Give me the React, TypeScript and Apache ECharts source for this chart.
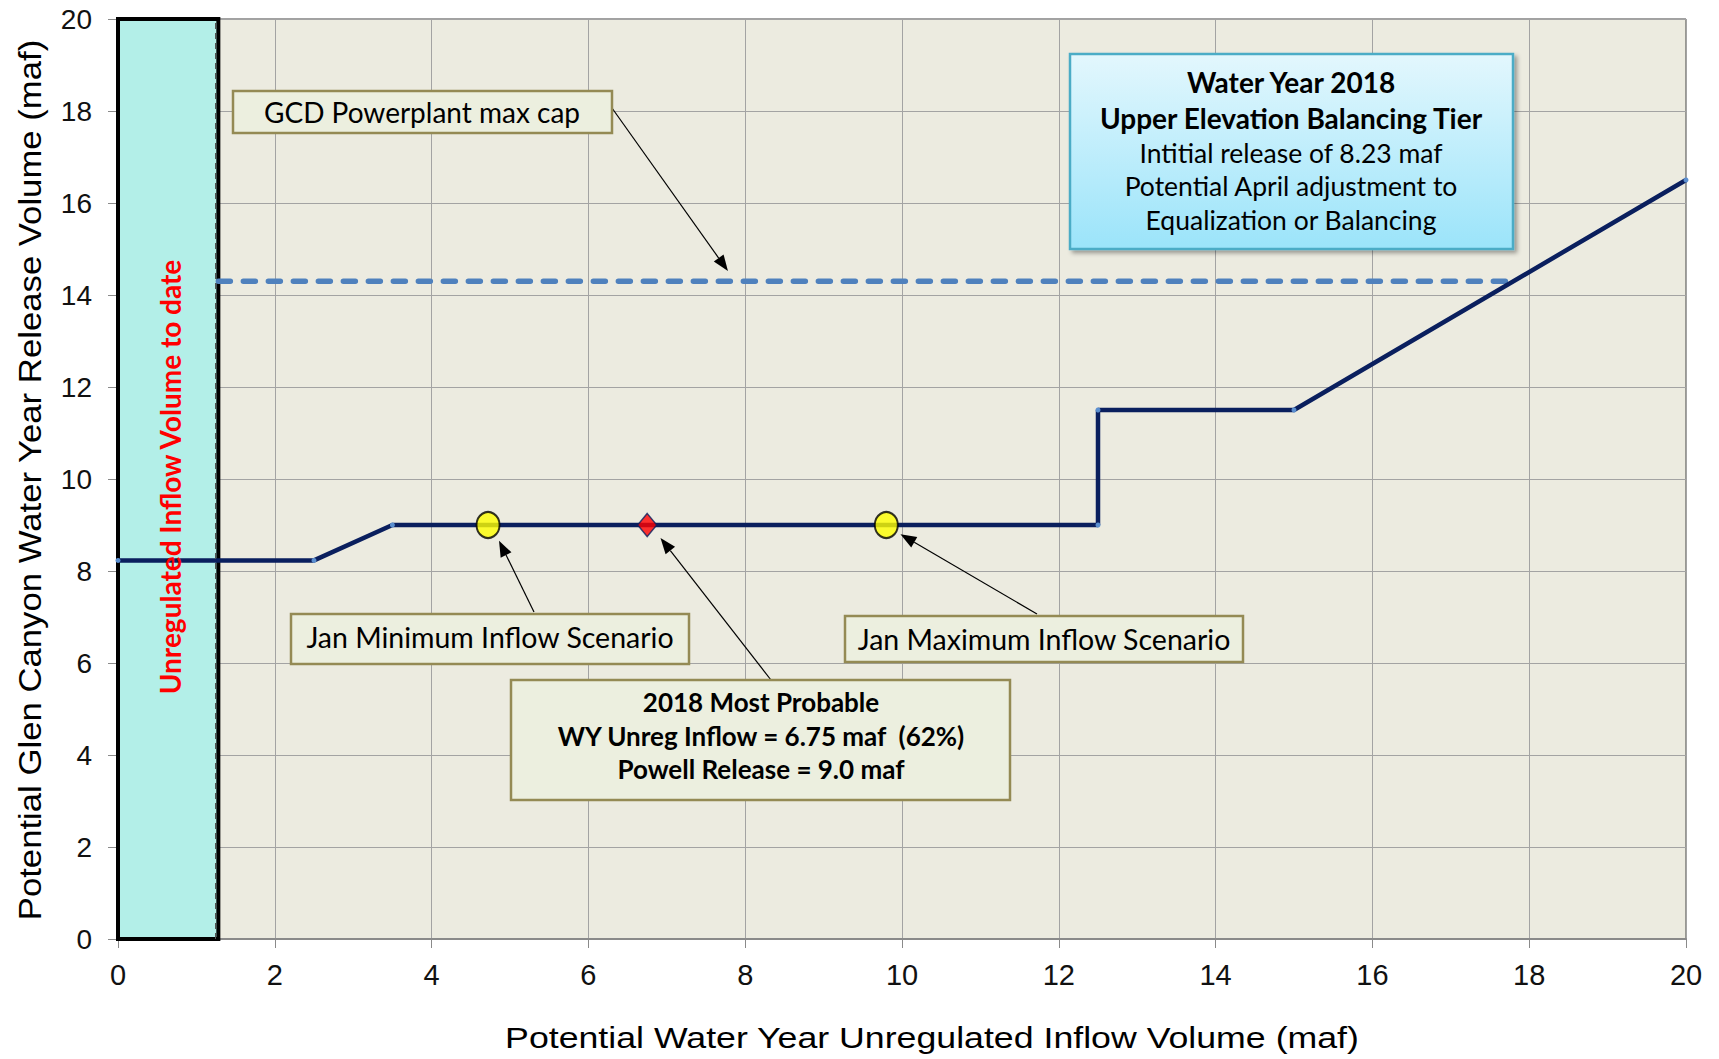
import React, { useEffect, useRef } from "react";
import * as echarts from "echarts";

// ---- data ----
const releaseX = [0, 2.5, 3.5, 12.5, 12.5, 15, 20];
const releaseY = [8.23, 8.23, 9.0, 9.0, 11.5, 11.5, 16.5];
const maxCapX = [1.28, 17.8];
const maxCapY = 14.3;
const inflowToDate = 1.28;
const scenarioX = [4.72, 9.8];
const scenarioY = [9.0, 9.0];
const mostProbableX = [6.75];
const mostProbableY = [9.0];
const axisMin = 0;
const axisMax = 20;
const axisStep = 2;

const blueBoxLines = [
  "Water Year 2018",
  "Upper Elevation Balancing Tier",
  "Intitial release of 8.23 maf",
  "Potential April adjustment to",
  "Equalization or Balancing",
];
const mostProbableLines = [
  "2018 Most Probable",
  "WY Unreg Inflow = 6.75 maf  (62%)",
  "Powell Release = 9.0 maf",
];

// ---- layout ----
const GRID = { left: 118, top: 19, right: 33, bottom: 120 };
const W = 1719;
const H = 1059;
const PW = W - GRID.left - GRID.right;
const PH = H - GRID.top - GRID.bottom;
const toPx = (x: number, y: number): [number, number] => [
  GRID.left + ((x - axisMin) / (axisMax - axisMin)) * PW,
  GRID.top + (1 - (y - axisMin) / (axisMax - axisMin)) * PH,
];

const FONT_ANN = "Lato, 'Open Sans', sans-serif";
const FONT_AX = "'Liberation Sans', Arial, sans-serif";

function arrow(from: [number, number], to: [number, number]) {
  const dx = to[0] - from[0];
  const dy = to[1] - from[1];
  const len = Math.sqrt(dx * dx + dy * dy);
  const ux = dx / len;
  const uy = dy / len;
  const hl = 16;
  const hw = 6;
  const bx = to[0] - ux * hl;
  const by = to[1] - uy * hl;
  return [
    {
      type: "line",
      shape: { x1: from[0], y1: from[1], x2: bx, y2: by },
      style: { stroke: "#000", lineWidth: 1.2 },
      z: 50,
    },
    {
      type: "polygon",
      shape: {
        points: [
          [to[0], to[1]],
          [bx - uy * hw, by + ux * hw],
          [bx + uy * hw, by - ux * hw],
        ],
      },
      style: { fill: "#000" },
      z: 50,
    },
  ];
}

function box(x: number, y: number, w: number, h: number) {
  return {
    type: "rect",
    shape: { x, y, width: w, height: h },
    style: { fill: "#ecefdf", stroke: "#948a54", lineWidth: 2.5 },
    z: 60,
  };
}

function text(
  x: number,
  y: number,
  t: string,
  font: string,
  fill = "#000",
  rotation = 0,
  scaleX = 1
) {
  return {
    type: "text",
    x,
    y,
    rotation,
    scaleX,
    style: { text: t, font, fill, align: "center", verticalAlign: "middle" },
    z: 70,
  };
}

export default function App() {
  const ref = useRef<HTMLDivElement>(null);
  useEffect(() => {
    if (!ref.current) return;
    const chart = echarts.init(ref.current, null, { renderer: "svg" });

    const graphics: any[] = [];
    // GCD powerplant box
    graphics.push(box(233, 91, 379, 42));
    graphics.push(text(422, 112, "GCD Powerplant max cap", `28px ${FONT_ANN}`));
    graphics.push(...arrow([612, 108], toPx(7.78, 14.52)));
    // Jan min
    graphics.push(box(291, 614, 398, 50));
    graphics.push(text(490, 637, "Jan Minimum Inflow Scenario", `28.5px ${FONT_ANN}`));
    graphics.push(...arrow([534, 612], toPx(4.86, 8.66)));
    // Jan max
    graphics.push(box(845, 616, 398, 46));
    graphics.push(text(1044, 639, "Jan Maximum Inflow Scenario", `28.5px ${FONT_ANN}`));
    graphics.push(...arrow([1037, 614], toPx(9.98, 8.8)));
    // Most probable
    graphics.push(box(511, 680, 499, 120));
    const mpY = [702, 736, 769];
    mostProbableLines.forEach((l, i) =>
      graphics.push(text(761, mpY[i], l, `bold 26px ${FONT_ANN}`))
    );
    graphics.push(...arrow([771, 680], toPx(6.92, 8.72)));
    // Blue box
    graphics.push({
      type: "rect",
      shape: { x: 1070, y: 54, width: 443, height: 195 },
      style: {
        fill: new echarts.graphic.LinearGradient(0, 0, 0, 1, [
          { offset: 0, color: "#e3f7fd" },
          { offset: 1, color: "#9be4fa" },
        ]),
        stroke: "#4bacc6",
        lineWidth: 2.5,
        shadowBlur: 4,
        shadowOffsetX: 3,
        shadowOffsetY: 3,
        shadowColor: "rgba(0,0,0,0.35)",
      },
      z: 60,
    });
    const bY = [82, 118, 153, 186, 220];
    blueBoxLines.forEach((l, i) =>
      graphics.push(
        text(1291, bY[i], l, `${i < 2 ? "bold 28px" : "26.5px"} ${FONT_ANN}`)
      )
    );
    // red vertical label
    graphics.push(
      text(170, 477, "Unregulated Inflow Volume to date", `bold 28px ${FONT_ANN}`, "#ff0000", Math.PI / 2)
    );
    // axis titles
    graphics.push(
      text(30, 480, "Potential Glen Canyon Water Year Release Volume (maf)", `31px ${FONT_AX}`, "#000", Math.PI / 2, 1.12)
    );
    graphics.push(
      text(932, 1038, "Potential Water Year Unregulated Inflow Volume (maf)", `30px ${FONT_AX}`, "#000", 0, 1.19)
    );

    chart.setOption({
      animation: false,
      backgroundColor: "#ffffff",
      grid: {
        left: GRID.left,
        top: GRID.top,
        right: GRID.right,
        bottom: GRID.bottom,
        show: true,
        backgroundColor: "#ecebe0",
        borderColor: "#444",
        borderWidth: 1,
      },
      xAxis: {
        type: "value",
        min: axisMin,
        max: axisMax,
        interval: axisStep,
        axisLine: { lineStyle: { color: "#8a8a8a", width: 2 } },
        axisTick: { show: true, length: 9, lineStyle: { color: "#8a8a8a" } },
        axisLabel: { fontSize: 29, fontFamily: FONT_AX, color: "#111", margin: 21 },
        splitLine: { show: true, lineStyle: { color: "#a3a3a3", width: 1 } },
      },
      yAxis: {
        type: "value",
        min: axisMin,
        max: axisMax,
        interval: axisStep,
        axisLine: { show: true, lineStyle: { color: "#8a8a8a", width: 1 } },
        axisTick: { show: true, length: 10, lineStyle: { color: "#8a8a8a" } },
        axisLabel: { fontSize: 28, fontFamily: FONT_AX, color: "#111", margin: 26 },
        splitLine: { show: true, lineStyle: { color: "#a3a3a3", width: 1 } },
      },
      series: [
        {
          type: "line",
          data: [],
          z: 1,
          markArea: {
            silent: true,
            itemStyle: { color: "#b3efe8", borderColor: "#000", borderWidth: 4 },
            data: [[{ xAxis: axisMin, yAxis: axisMin }, { xAxis: inflowToDate, yAxis: axisMax }]],
          },
          markLine: {
            silent: true,
            symbol: "none",
            label: { show: false },
            lineStyle: { color: "#555", type: [6, 4], width: 1 },
            data: [[{ coord: [inflowToDate - 0.04, axisMin] }, { coord: [inflowToDate - 0.04, axisMax] }]],
          },
        },
        {
          name: "Max cap",
          type: "line",
          z: 3,
          data: maxCapX.map((x) => [x, maxCapY]),
          showSymbol: false,
          lineStyle: { color: "#4f81bd", width: 5.5, type: [12, 13], cap: "round" },
        },
        {
          name: "Release",
          type: "line",
          z: 4,
          data: releaseX.map((x, i) => [x, releaseY[i]]),
          showSymbol: true,
          symbol: "circle",
          symbolSize: 5,
          itemStyle: { color: "#5b8fd0" },
          lineStyle: { color: "#0a1f5e", width: 4.5 },
        },
        {
          name: "Scenarios",
          type: "scatter",
          z: 5,
          data: scenarioX.map((x, i) => [x, scenarioY[i]]),
          symbol: "circle",
          symbolSize: [23, 26],
          itemStyle: { color: "#ffff00", borderColor: "#000", borderWidth: 2 },
        },
        {
          name: "Most probable",
          type: "scatter",
          z: 5,
          data: mostProbableX.map((x, i) => [x, mostProbableY[i]]),
          symbol: "diamond",
          symbolSize: [19, 23],
          itemStyle: { color: "#ff0000", borderColor: "#0a1f5e", borderWidth: 1.5 },
        },
      ],
      graphic: graphics,
    });
    return () => chart.dispose();
  }, []);
  return (
    <div
      ref={ref}
      style={{ position: "fixed", left: 0, top: 0, width: "1719px", height: "1059px" }}
    />
  );
}
